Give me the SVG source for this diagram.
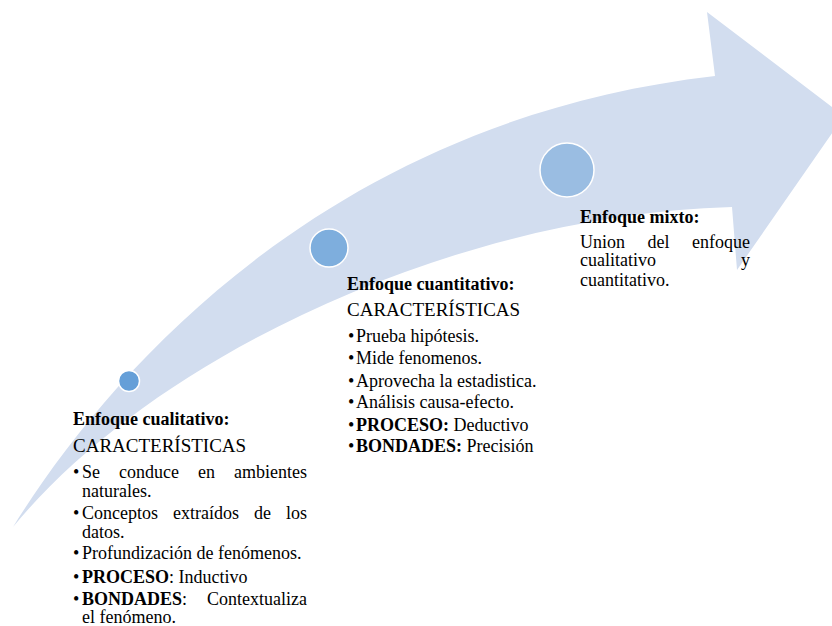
<svg xmlns="http://www.w3.org/2000/svg" width="832" height="626" viewBox="0 0 832 626">
<style>
text{font-family:"Liberation Serif","Tinos","Noto Serif","DejaVu Serif",serif;font-size:18px;fill:#000}
.b{font-weight:bold}
.h{font-size:19px}
.dot{stroke:#fff;stroke-width:1.5}
</style>
<rect width="832" height="626" fill="#fff"/>
<g id="arrow">
<path d="M13,527 C110,370 330,120 715,76 L707,12 L844,116 L737,270 L732,207 C450,215 150,360 13,527 Z" fill="#d2ddef"/>
</g>
<g id="circle1"><circle class="dot" cx="129" cy="381" r="10.5" fill="#659fd8"/></g>
<g id="circle2"><circle class="dot" cx="329" cy="248" r="19" fill="#7eaedd"/></g>
<g id="circle3"><circle class="dot" cx="567" cy="170" r="27" fill="#9abde2"/></g>
<g id="cualitativo">
<text class="b" x="73" y="425">Enfoque cualitativo:</text>
<text class="h" x="73" y="452">CARACTERÍSTICAS</text>
<text x="73" y="478">•</text>
<text y="478"><tspan x="82">Se</tspan><tspan x="119">conduce</tspan><tspan x="198">en</tspan><tspan x="234">ambientes</tspan></text>
<text x="82" y="497">naturales.</text>
<text x="73" y="519">•</text>
<text y="519"><tspan x="82">Conceptos</tspan><tspan x="173">extraídos</tspan><tspan x="254">de</tspan><tspan x="286">los</tspan></text>
<text x="82" y="538">datos.</text>
<text x="73" y="559">•</text>
<text x="82" y="559">Profundización de fenómenos.</text>
<text x="73" y="583">•</text>
<text x="82" y="583"><tspan class="b">PROCESO</tspan>: Inductivo</text>
<text x="73" y="605">•</text>
<text x="82" y="605"><tspan class="b">BONDADES</tspan>:</text>
<text x="307" y="605" text-anchor="end">Contextualiza</text>
<text x="82" y="623">el fenómeno.</text>
</g>
<g id="cuantitativo">
<text class="b" x="347" y="290">Enfoque cuantitativo:</text>
<text class="h" x="347" y="316">CARACTERÍSTICAS</text>
<text x="348" y="342">•</text>
<text x="356" y="342">Prueba hipótesis.</text>
<text x="348" y="364">•</text>
<text x="356" y="364">Mide fenomenos.</text>
<text x="348" y="387">•</text>
<text x="356" y="387">Aprovecha la estadistica.</text>
<text x="348" y="408">•</text>
<text x="356" y="408">Análisis causa-efecto.</text>
<text x="348" y="431">•</text>
<text x="356" y="431"><tspan class="b">PROCESO:</tspan> Deductivo</text>
<text x="348" y="452">•</text>
<text x="356" y="452"><tspan class="b">BONDADES:</tspan> Precisión</text>
</g>
<g id="mixto">
<text class="b" x="580" y="223">Enfoque mixto:</text>
<text y="248"><tspan x="580">Union</tspan><tspan x="647.5">del</tspan></text>
<text x="750" y="248" text-anchor="end">enfoque</text>
<text x="580" y="266">cualitativo</text>
<text x="750" y="266" text-anchor="end">y</text>
<text x="580" y="286">cuantitativo.</text>
</g>
<g id="connectors"/>
</svg>
